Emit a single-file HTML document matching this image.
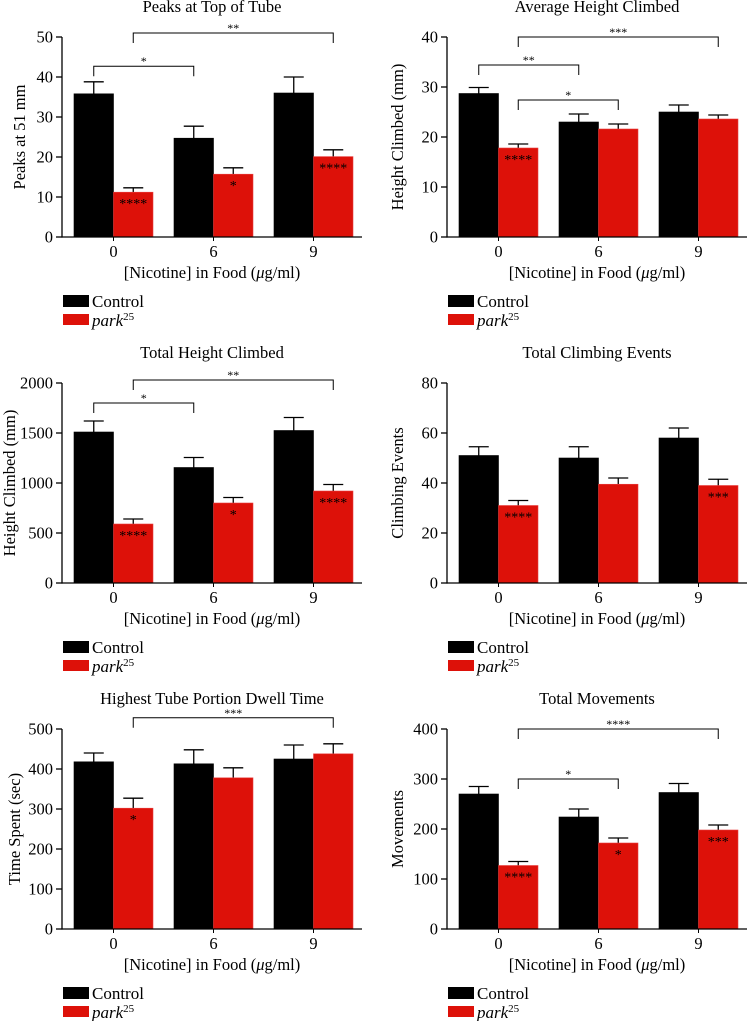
<!DOCTYPE html>
<html><head><meta charset="utf-8"><style>
body{margin:0;background:#fff}
svg{display:block;font-family:"Liberation Serif",serif}
</style></head><body>
<svg id="fig" width="748" height="1021" viewBox="0 0 748 1021"></svg>
<script>
const groups=["0","6","9"];
const titles=["Peaks at Top of Tube","Average Height Climbed","Total Height Climbed","Total Climbing Events","Highest Tube Portion Dwell Time","Total Movements"];
const yTitles=["Peaks at 51 mm","Height Climbed (mm)","Height Climbed (mm)","Climbing Events","Time Spent (sec)","Movements"];
const yMax=[50,40,2000,80,500,400];
const yStep=[10,10,500,20,100,100];
const ctrl=[[35.8,24.7,36],[28.7,23,25],[1510,1155,1525],[51,50,58],[418,413,425],[270,224,273]];
const ctrlErr=[[3,3,4],[1.2,1.6,1.4],[110,100,130],[3.5,4.5,4],[22,35,35],[15,16,18]];
const park=[[11.2,15.7,20.1],[17.8,21.6,23.6],[590,800,920],[31,39.5,39],[302,378,438],[127,172,198]];
const parkErr=[[1.1,1.6,1.7],[0.8,1,0.8],[50,55,65],[2,2.5,2.5],[25,25,25],[8,10,10]];
const parkStars=[["****","*","****"],["****","",""],["****","*","****"],["****","","***"],["*","",""],["****","*","***"]];
// brackets: [fromSeries,fromGroup,toSeries,toGroup,value,label] series 0=ctrl 1=park
const brackets=[
 [[0,0,0,1,42.7,"*"],[1,0,1,2,51,"**"]],
 [[0,0,0,1,34.4,"**"],[1,0,1,1,27.4,"*"],[1,0,1,2,40,"***"]],
 [[0,0,0,1,1800,"*"],[1,0,1,2,2030,"**"]],
 [],
 [[1,0,1,2,528,"***"]],
 [[1,0,1,1,300,"*"],[1,0,1,2,400,"****"]]
];
const yTitleOff=[-37,-44,-47,-44,-42,-44];
const NS="http://www.w3.org/2000/svg";
const svg=document.getElementById('fig');
function mk(tag,attrs,parent,text){const e=document.createElementNS(NS,tag);for(const k in attrs)e.setAttribute(k,attrs[k]);if(text!==undefined)e.textContent=text;(parent||svg).appendChild(e);return e;}
for(let p=0;p<6;p++){
 const ax=p%2?447:62, y0=237+346*Math.floor(p/2), H=200, right=ax+300;
 const g=mk('g',{});
 
 
 const sy=v=>y0-v/yMax[p]*H;
 const bx=(s,i)=>ax+12+i*100+s*39.5;
 const t=mk('text',{x:(ax+right)/2,y:y0-225,'text-anchor':'middle','font-size':16.5},g,titles[p]);
 
 
 const yt=mk('text',{transform:`translate(${ax+yTitleOff[p]},${y0-100}) rotate(-90)`,'text-anchor':'middle','font-size':16.5},g,yTitles[p]);
 
 
 for(let v=0;v<=yMax[p];v+=yStep[p]){
  mk('line',{x1:ax-6,x2:ax,y1:sy(v),y2:sy(v),stroke:'#000','stroke-width':1.3},g);
  const tl=mk('text',{x:ax-9,y:sy(v)+5.5,'text-anchor':'end','font-size':16.5},g,String(v));
  
  
 }
 for(let i=0;i<3;i++){
  [[ctrl,ctrlErr,'#000'],[park,parkErr,'#dd1109']].forEach((d,s)=>{
   const v=d[0][p][i], e=d[1][p][i], x=bx(s,i), cx=x+19.75;
   mk('line',{x1:cx,x2:cx,y1:sy(v),y2:sy(v+e),stroke:'#000','stroke-width':1.3},g);
   mk('line',{x1:cx-10,x2:cx+10,y1:sy(v+e),y2:sy(v+e),stroke:'#000','stroke-width':1.3},g);
   const r=mk('rect',{x:x,y:sy(v),width:39.5,height:y0-sy(v),fill:d[2],stroke:s?'#e94040':'#000','stroke-width':0.6},g);
   
   
  });
  const st=parkStars[p][i];
  if(st){const a=mk('text',{x:bx(1,i)+19.75,y:sy(park[p][i])+16,'text-anchor':'middle','font-size':14},g,st);
   
   }
  const xl=mk('text',{x:ax+12+i*100+39.5,y:y0+20,'text-anchor':'middle','font-size':16.5},g,groups[i]);
  
  
  mk('line',{x1:ax+12+i*100+39.5,x2:ax+12+i*100+39.5,y1:y0,y2:y0+4,stroke:'#000','stroke-width':1},g);
 }
 mk('line',{x1:ax,x2:ax,y1:sy(yMax[p]),y2:y0+0.6,stroke:'#000','stroke-width':1.3},g);
 mk('line',{x1:ax,x2:right,y1:y0,y2:y0,stroke:'#000','stroke-width':1.3},g);
 brackets[p].forEach(b=>{
  const x1=bx(b[0],b[1])+19.75,x2=bx(b[2],b[3])+19.75,y=sy(b[4]);
  mk('path',{d:`M${x1},${y+10}V${y}H${x2}V${y+10}`,fill:'none',stroke:'#000','stroke-width':1},g);
  const bl=mk('text',{x:(x1+x2)/2,y:y-1,'text-anchor':'middle','font-size':12},g,b[5]);
  
  
 });
 const xt=mk('text',{x:(ax+right)/2,y:y0+41,'text-anchor':'middle','font-size':16.5},g);
 xt.innerHTML='[Nicotine] in Food (<tspan font-style="italic">μ</tspan>g/ml)';
 
 
 const lg=mk('g',{},g);
 
 
 mk('rect',{x:ax+1,y:y0+58,width:26,height:12,fill:'#000'},lg);
 mk('text',{x:ax+30,y:y0+70,'font-size':17},lg,'Control');
 mk('rect',{x:ax+1,y:y0+77,width:26,height:11,fill:'#dd1109'},lg);
 const pk=mk('text',{x:ax+30,y:y0+89,'font-size':17},lg);
 pk.innerHTML='<tspan font-style="italic">park</tspan><tspan font-size="11" dy="-6">25</tspan>';
}
</script>
</body></html>
